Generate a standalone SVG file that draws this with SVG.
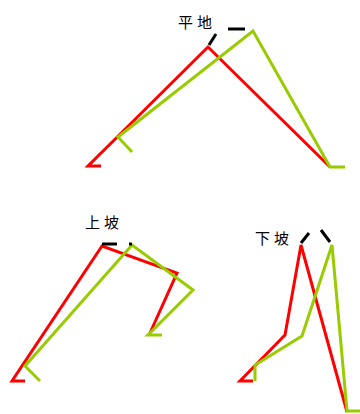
<svg xmlns="http://www.w3.org/2000/svg" width="360" height="414" viewBox="0 0 360 414">
<style>
.red{fill:none;stroke:#ff0000;stroke-width:3;stroke-linejoin:miter}
.grn{fill:none;stroke:#99cc00;stroke-width:3;stroke-linejoin:miter}
.blk{fill:none;stroke:#000;stroke-width:3}
.lbl{font-family:"Liberation Sans","Noto Sans CJK SC",sans-serif;font-size:15px;letter-spacing:4px;fill:#000}
</style>
<rect width="360" height="414" fill="#fff"/>
<g id="flat">
<text class="lbl" x="178" y="28">平地</text>
<path class="red" d="M101,166 H88 L208,47 L330,167"/>
<path class="grn" d="M132,152 L118,137 L253,31 L330,167 H345"/>
<path class="blk" d="M209,45 L216,34"/>
<path class="blk" d="M228,29 H245"/>
</g>
<g id="uphill">
<text class="lbl" x="85" y="228">上坡</text>
<path class="red" d="M25,381 H12 L102,246 L177,273 L150,333"/>
<path class="grn" d="M40,381 L25,366 L132,245 L193,290 L148,335 H162"/>
<path class="blk" d="M102,244 H117"/>
<path class="blk" d="M129,244 H132"/>
</g>
<g id="downhill">
<text class="lbl" x="255" y="244">下坡</text>
<path class="red" d="M253,381 H240 L285,335 L301,245 L347,412"/>
<path class="grn" d="M255,381 V365 L302,336 L332,245 L347,411 H360"/>
<path class="blk" d="M301,243 L309,233"/>
<path class="blk" d="M321,230 L330,242"/>
</g>
</svg>
